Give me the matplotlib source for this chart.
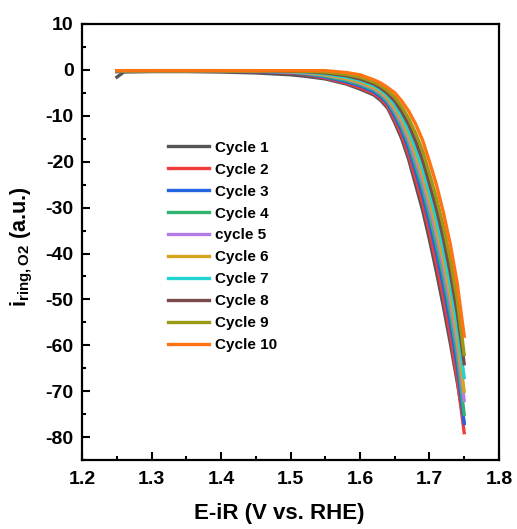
import matplotlib
matplotlib.use("Agg")
import matplotlib.pyplot as plt
from matplotlib.ticker import MultipleLocator

plt.rcParams['font.family'] = ['Liberation Sans', 'DejaVu Sans']
plt.rcParams['font.weight'] = 'bold'
plt.rcParams['axes.unicode_minus'] = False
plt.rcParams['mathtext.fontset'] = 'custom'
plt.rcParams['mathtext.rm'] = 'Liberation Sans'
plt.rcParams['mathtext.it'] = 'Liberation Sans:italic'
plt.rcParams['mathtext.bf'] = 'Liberation Sans:bold'

potential = [1.25, 1.26, 1.30, 1.35, 1.40, 1.45, 1.50, 1.52, 1.55, 1.58, 1.60, 1.62,
             1.63, 1.64, 1.65, 1.66, 1.67, 1.68, 1.69, 1.70, 1.71, 1.72, 1.73, 1.74, 1.75]

labels = ["Cycle 1", "Cycle 2", "Cycle 3", "Cycle 4", "cycle 5",
          "Cycle 6", "Cycle 7", "Cycle 8", "Cycle 9", "Cycle 10"]

colors = ["#555555", "#f03c3c", "#2563e0", "#2fb36e", "#b57be6",
          "#d8a41e", "#22d3d3", "#7b4b4b", "#9a9a14", "#ff7313"]

cycle1 = [-1.6, -0.5, -0.4, -0.4, -0.5, -0.7, -1.1, -1.4,
          -2.0, -3.1, -4.2, -5.5, -6.7, -8.4, -11.5, -15.0, -19.5, -25.0, -30.5,
          -37.0, -44.0, -51.5, -59.5, -68.0, -77.0]
cycle2 = [-0.4, -0.3, -0.2, -0.2, -0.3, -0.4, -0.7, -1.0,
          -1.8, -2.9, -3.9, -5.2, -6.3, -8.0, -10.9, -14.2, -18.5, -23.7, -29.0,
          -35.3, -42.1, -49.5, -57.8, -67.2, -79.0]
cycle3 = [-0.4, -0.3, -0.2, -0.2, -0.3, -0.4, -0.6, -0.9,
          -1.6, -2.6, -3.5, -4.8, -5.9, -7.4, -10.1, -13.2, -17.2, -22.1, -27.2,
          -33.3, -39.8, -47.0, -55.2, -64.4, -77.0]
cycle4 = [-0.3, -0.3, -0.2, -0.2, -0.2, -0.3, -0.5, -0.8,
          -1.4, -2.3, -3.2, -4.4, -5.5, -7.0, -9.4, -12.4, -16.1, -20.8, -25.6,
          -31.6, -37.9, -44.9, -53.0, -62.1, -75.0]
cycle5 = [-0.3, -0.2, -0.2, -0.2, -0.2, -0.3, -0.5, -0.7,
          -1.2, -2.0, -2.9, -4.1, -5.1, -6.5, -8.8, -11.6, -15.1, -19.5, -24.1,
          -29.9, -36.0, -42.9, -50.8, -59.8, -72.0]
cycle6 = [-0.3, -0.2, -0.2, -0.2, -0.2, -0.3, -0.4, -0.6,
          -1.1, -1.9, -2.7, -3.9, -4.8, -6.2, -8.3, -10.9, -14.3, -18.4, -22.9,
          -28.5, -34.5, -41.3, -49.0, -58.0, -70.0]
cycle7 = [-0.3, -0.2, -0.2, -0.2, -0.2, -0.2, -0.4, -0.5,
          -0.9, -1.6, -2.3, -3.5, -4.4, -5.7, -7.6, -10.1, -13.2, -17.1, -21.4,
          -26.8, -32.6, -39.2, -46.8, -55.7, -67.0]
cycle8 = [-0.3, -0.2, -0.2, -0.2, -0.2, -0.2, -0.3, -0.4,
          -0.7, -1.3, -2.0, -3.1, -4.0, -5.2, -6.8, -9.1, -11.9, -15.5, -19.6,
          -24.8, -30.3, -36.7, -44.2, -52.9, -64.0]
cycle9 = [-0.2, -0.2, -0.2, -0.2, -0.2, -0.2, -0.2, -0.3,
          -0.5, -1.0, -1.6, -2.7, -3.5, -4.6, -6.0, -8.0, -10.6, -13.8, -17.6,
          -22.6, -27.9, -34.1, -41.3, -50.0, -62.0]
cycle10 = [-0.2, -0.2, -0.2, -0.2, -0.2, -0.2, -0.2, -0.2,
           -0.2, -0.6, -1.1, -2.2, -2.9, -3.9, -5.0, -6.8, -9.0, -11.8, -15.3,
           -20.0, -25.0, -31.0, -38.0, -46.5, -58.0]

series = [cycle1, cycle2, cycle3, cycle4, cycle5, cycle6, cycle7, cycle8, cycle9, cycle10]

fig = plt.figure(figsize=(5.17, 5.29), dpi=100)
ax = fig.add_axes([0.159, 0.130, 0.806, 0.825])

for vals, lab, col in zip(series, labels, colors):
    ax.plot(potential, vals, color=col, lw=2.4, label=lab, solid_joinstyle='round')

ax.set_xlim(1.2, 1.8)
ax.set_ylim(-85, 10)
ax.xaxis.set_major_locator(MultipleLocator(0.1))
ax.xaxis.set_minor_locator(MultipleLocator(0.05))
ax.yaxis.set_major_locator(MultipleLocator(10))
ax.yaxis.set_minor_locator(MultipleLocator(5))
ax.tick_params(which='both', direction='in', top=False, right=False, width=1.5,
               labelsize=14)
ax.tick_params(axis='x', pad=8)
ax.tick_params(axis='y', pad=6)
ax.tick_params(which='major', length=6)
ax.tick_params(which='minor', length=3)
for lab in ax.get_xticklabels() + ax.get_yticklabels():
    lab.set_fontweight('bold')
for sp in ax.spines.values():
    sp.set_linewidth(1.6)

ax.set_xlabel("E-iR (V vs. RHE)", fontsize=16, fontweight='bold')
ax.set_ylabel(r"i$_{\rm ring,O2}$ (a.u.)", fontsize=15.5, fontweight='bold')
ax.xaxis.set_label_coords(0.472, -0.097)
ax.yaxis.set_label_coords(-0.113, 0.49)

leg = ax.legend(loc='upper left', bbox_to_anchor=(0.325, 0.734), bbox_transform=fig.transFigure,
                frameon=False, fontsize=11, handlelength=2.7, labelspacing=0.52,
                handletextpad=0.4, borderpad=0, borderaxespad=0)
for t in leg.get_texts():
    t.set_fontweight('bold')

fig.savefig("out.png", dpi=100)
